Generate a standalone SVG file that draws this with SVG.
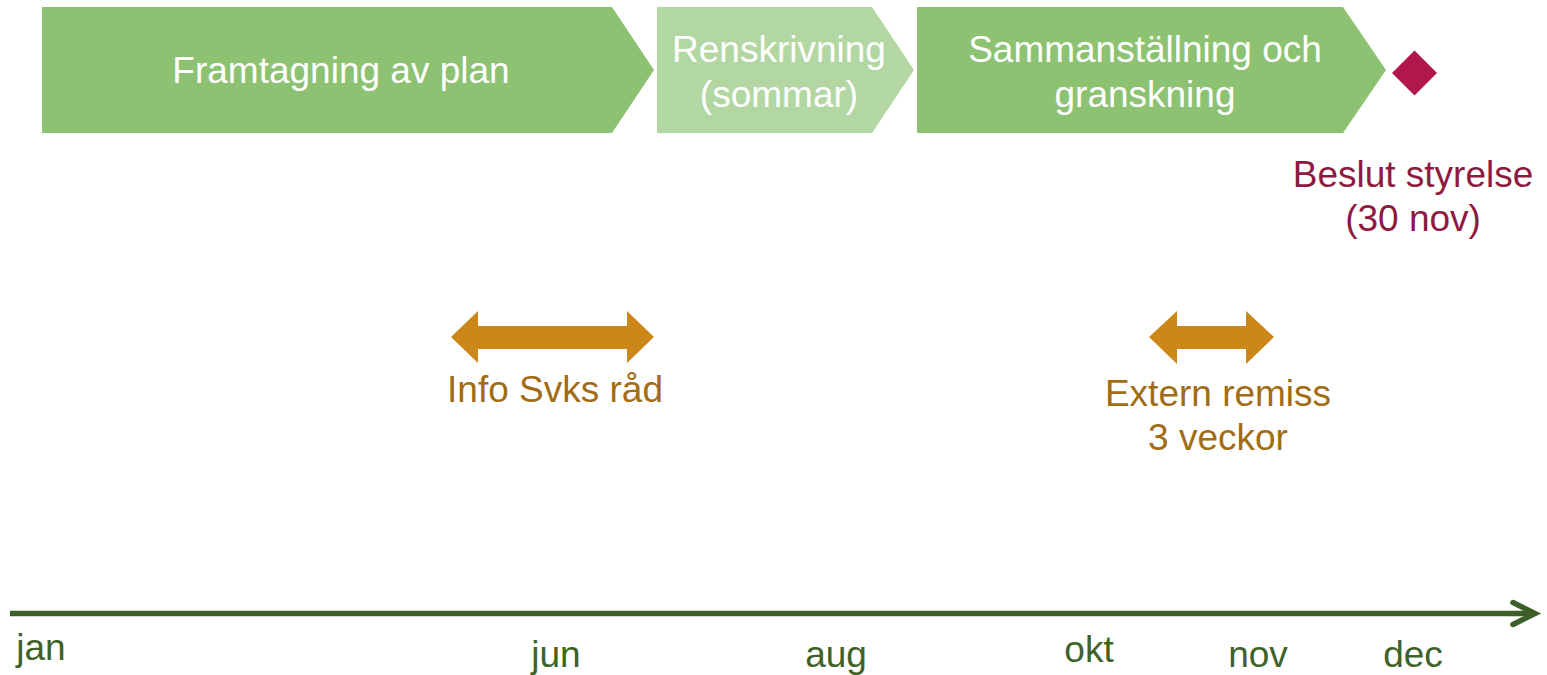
<svg xmlns="http://www.w3.org/2000/svg" width="1547" height="675" viewBox="0 0 1547 675">
<style>
text{font-family:"Liberation Sans",Arial,sans-serif;font-size:37px;text-anchor:middle}
.w{fill:#ffffff}
.o{fill:#A16C14}
.m{fill:#8E1A3F}
.t{fill:#3E6229}
.arr{fill:#CC8719}
</style>
<rect width="1547" height="675" fill="#ffffff"/>
<g id="phase1">
<polygon points="42,7 612,7 654,70 612,133 42,133" fill="#8CC272"/>
<text class="w" x="341" y="83">Framtagning av plan</text>
</g>
<g id="phase2">
<polygon points="657,7 872,7 914,70 872,133 657,133" fill="#B3D7A2"/>
<text class="w" x="779" y="62">Renskrivning</text>
<text class="w" x="779" y="107">(sommar)</text>
</g>
<g id="phase3">
<polygon points="917,7 1343,7 1386,70 1343,133 917,133" fill="#8CC272"/>
<text class="w" x="1145" y="62">Sammanställning och</text>
<text class="w" x="1145" y="107">granskning</text>
</g>
<g id="milestone">
<polygon points="1414.5,50.5 1437,73 1414.5,95.5 1392,73" fill="#B0184A"/>
<text class="m" x="1413" y="187">Beslut styrelse</text>
<text class="m" x="1413" y="231">(30 nov)</text>
</g>
<g id="info">
<polygon class="arr" points="451,337 478,311 478,326 627,326 627,311 654,337 627,363 627,349 478,349 478,363"/>
<text class="o" x="555" y="402">Info Svks råd</text>
</g>
<g id="remiss">
<polygon class="arr" points="1149,337 1177,311 1177,326 1246,326 1246,311 1274,337 1246,364 1246,349 1177,349 1177,364"/>
<text class="o" x="1218" y="406">Extern remiss</text>
<text class="o" x="1218" y="450">3 veckor</text>
</g>
<g id="connectors">
<line x1="10" y1="613.5" x2="1533" y2="613.5" stroke="#3C5E27" stroke-width="5.5"/>
<polyline points="1513,602.5 1535,613.5 1513,624.5" fill="none" stroke="#3C5E27" stroke-width="5.5" stroke-linecap="round" stroke-linejoin="miter"/>
</g>
<g id="months">
<text class="t" x="41" y="660">jan</text>
<text class="t" x="556" y="667">jun</text>
<text class="t" x="836" y="667">aug</text>
<text class="t" x="1089" y="662">okt</text>
<text class="t" x="1258" y="667">nov</text>
<text class="t" x="1413" y="667">dec</text>
</g>
</svg>
